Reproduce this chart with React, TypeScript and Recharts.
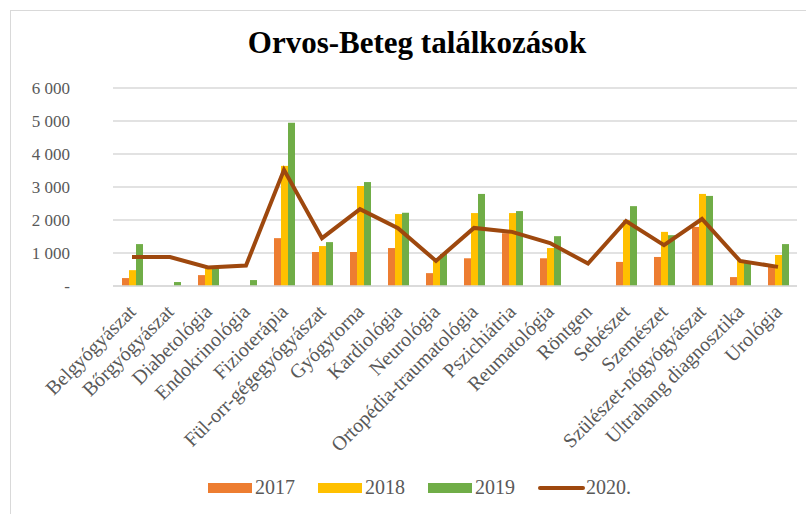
import React from "react";
import {
  ComposedChart,
  Bar,
  Line,
  XAxis,
  YAxis,
  CartesianGrid,
  Legend,
} from "recharts";

const categories = [
  "Belgyógyászat",
  "Bőrgyógyászat",
  "Diabetológia",
  "Endokrinológia",
  "Fizioterápia",
  "Fül-orr-gégegyógyászat",
  "Gyógytorna",
  "Kardiológia",
  "Neurológia",
  "Ortopédia-traumatológia",
  "Pszichiátria",
  "Reumatológia",
  "Röntgen",
  "Sebészet",
  "Szemészet",
  "Szülészet-nőgyógyászat",
  "Ultrahang diagnosztika",
  "Urológia",
];

const v2017 = [240, 0, 330, 0, 1450, 1030, 1030, 1150, 390, 840, 1600, 840, 0, 730, 880, 1790, 270, 580];
const v2018 = [480, 0, 540, 0, 3640, 1210, 3030, 2180, 790, 2210, 2210, 1150, 0, 2000, 1640, 2790, 790, 940];
const v2019 = [1270, 120, 540, 180, 4950, 1330, 3150, 2220, 970, 2790, 2270, 1510, 0, 2420, 1540, 2730, 700, 1270];
const v2020 = [880, 880, 560, 620, 3520, 1450, 2330, 1750, 760, 1760, 1640, 1300, 680, 1970, 1240, 2030, 760, 580];

const yTicks = [0, 1000, 2000, 3000, 4000, 5000, 6000];

const seriesNames = ["2017", "2018", "2019", "2020."];
const colors = ["#ED7D31", "#FFC000", "#70AD47", "#9E480E"];

const data = categories.map((c, i) => ({
  name: c,
  a: v2017[i],
  b: v2018[i],
  c: v2019[i],
  d: v2020[i],
}));

const FONT = "Liberation Serif";
const GRAY = "#595959";

const fmt = (v: number) => (v === 0 ? "-" : v.toLocaleString("en-US").replace(/,/g, " "));

const XTick = (props: any) => {
  const { x, y, payload } = props;
  return (
    <g transform={`translate(${x + 5},${y + 19})`}>
      <text
        x={0}
        y={0}
        textAnchor="end"
        transform="rotate(-45)"
        fill={GRAY}
        fontSize={20}
        fontFamily={FONT}
      >
        {payload.value}
      </text>
    </g>
  );
};

const LegendContent = () => (
  <div
    style={{
      display: "flex",
      justifyContent: "flex-start",
      alignItems: "center",
      paddingLeft: 208,
      fontFamily: FONT,
      fontSize: 20,
      color: GRAY,
    }}
  >
    {seriesNames.map((n, i) => (
      <div key={n} style={{ display: "flex", alignItems: "center", width: i < 3 ? 110 : 100 }}>
        {i < 3 ? (
          <span style={{ display: "inline-block", width: 44, height: 10, background: colors[i], marginRight: 3 }} />
        ) : (
          <span style={{ display: "inline-block", width: 47, height: 4, background: colors[i], borderRadius: 2, marginRight: 1 }} />
        )}
        <span>{n}</span>
      </div>
    ))}
  </div>
);

export default function App() {
  return (
    <div style={{ position: "absolute", left: 0, top: 0, width: 806, height: 514, background: "#fff", overflow: "hidden" }}>
      <div
        style={{
          position: "absolute",
          left: 10,
          top: 10,
          width: 796,
          height: 504,
          borderTop: "1px solid #d9d9d9",
          borderLeft: "1px solid #d9d9d9",
          boxSizing: "border-box",
        }}
      />
      <div
        style={{
          position: "absolute",
          left: 0,
          top: 25,
          width: 834,
          textAlign: "center",
          fontFamily: FONT,
          fontWeight: "bold",
          fontSize: 31,
          color: "#000",
        }}
      >
        Orvos-Beteg találkozások
      </div>
      <div style={{ position: "absolute", left: 0, top: 0 }}>
        <ComposedChart
          width={806}
          height={514}
          data={data}
          margin={{ top: 88, right: 9, left: 0, bottom: 8 }}
          barGap={0}
        >
          <CartesianGrid vertical={false} stroke="#d9d9d9" strokeWidth={1.5} />
          <XAxis
            dataKey="name"
            interval={0}
            height={190}
            tick={<XTick />}
            tickLine={false}
            axisLine={{ stroke: "#d9d9d9", strokeWidth: 1.5 }}
          />
          <YAxis
            width={113}
            domain={[0, 6000]}
            ticks={yTicks}
            tickFormatter={fmt}
            axisLine={false}
            tickLine={false}
            tickMargin={37}
            tick={{ fill: GRAY, fontSize: 17, fontFamily: FONT }}
          />
          <Legend verticalAlign="bottom" height={30} content={<LegendContent />} />
          <Bar dataKey="a" name="2017" fill={colors[0]} barSize={7} isAnimationActive={false} />
          <Bar dataKey="b" name="2018" fill={colors[1]} barSize={7} isAnimationActive={false} />
          <Bar dataKey="c" name="2019" fill={colors[2]} barSize={7} isAnimationActive={false} />
          <Line
            dataKey="d"
            name="2020."
            type="linear"
            stroke={colors[3]}
            strokeWidth={4}
            dot={false}
            activeDot={false}
            isAnimationActive={false}
          />
        </ComposedChart>
      </div>
    </div>
  );
}
